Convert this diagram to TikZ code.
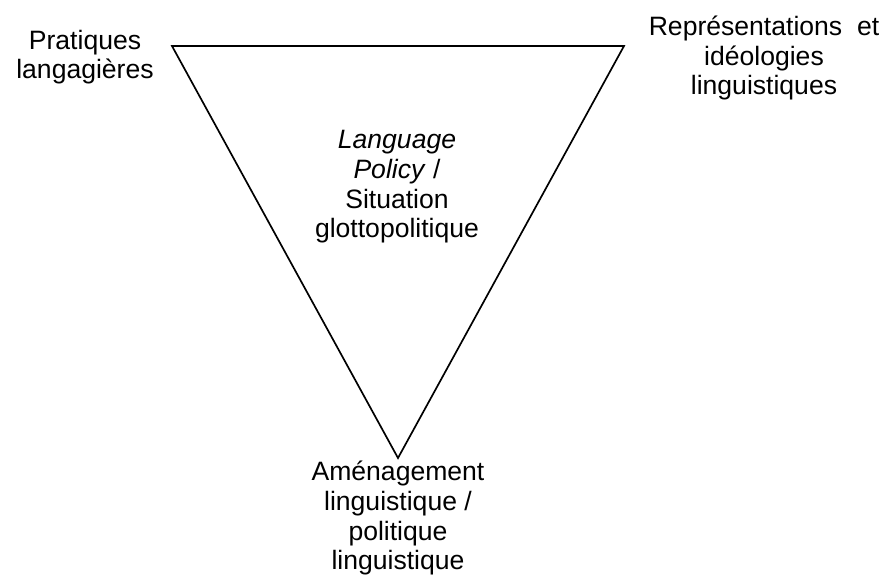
\documentclass[tikz,border=0pt]{standalone}
\usepackage{fontspec}
\setmainfont{Liberation Sans}
\usetikzlibrary{positioning}

\begin{document}
\begin{tikzpicture}[line width=1.2pt]

    \tikzstyle{txt}=[align=center, inner sep=0pt, anchor=base, font=\fontsize{18.9}{21.3}\selectfont]

    \useasboundingbox (0,0) rectangle (22.1,-14.5);

    \coordinate (pl) at (4.3,-1.15);
    \coordinate (ri) at (15.6,-1.15);
    \coordinate (bo) at (9.95,-11.45);

    \draw (pl) -- (ri) -- (bo) -- cycle;

    % base = last line
    \node[txt] (prat) at (2.125,-1.975) {Pratiques\\langagières};
    \node[txt] (repr) at (19.1,-2.375)  {Représentations~ et\\idéologies\\linguistiques};
    \node[txt] (lp)   at (9.925,-5.95)  {\textit{Language}\\\textit{Policy} /\\Situation\\glottopolitique};
    \node[txt] (amen) at (9.95,-14.25)  {Aménagement\\linguistique /\\politique\\linguistique};

\end{tikzpicture}
\end{document}
